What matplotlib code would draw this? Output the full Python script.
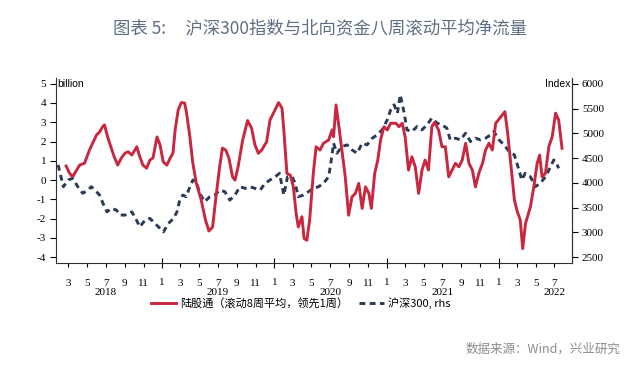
import matplotlib
matplotlib.use("Agg")
import matplotlib.pyplot as plt
import matplotlib.dates as mdates
import matplotlib.transforms as mtransforms
import numpy as np
import pandas as pd

plt.rcParams['font.family'] = ['Noto Sans CJK SC', 'DejaVu Sans']

# 陆股通（滚动8周平均，领先1周） - billion
flow_dates = ["2018-02-22","2018-03-05","2018-03-15","2018-04-07","2018-04-23","2018-05-09","2018-05-19",
    "2018-06-01","2018-06-11","2018-06-21","2018-06-27","2018-07-07","2018-07-19","2018-07-30","2018-08-09",
    "2018-08-21","2018-09-02","2018-09-12","2018-09-24","2018-10-04","2018-10-10","2018-10-20","2018-10-30",
    "2018-11-11","2018-11-22","2018-12-02","2018-12-15","2018-12-25","2019-01-04","2019-01-16","2019-01-27",
    "2019-02-05","2019-02-12","2019-02-22","2019-03-04","2019-03-15","2019-03-21","2019-04-01","2019-04-10",
    "2019-04-22","2019-05-08","2019-05-22","2019-06-02","2019-06-14","2019-06-25","2019-07-07","2019-07-16",
    "2019-07-27","2019-08-06","2019-08-18","2019-08-26","2019-09-05","2019-09-20","2019-10-06","2019-10-19",
    "2019-10-30","2019-11-10","2019-11-21","2019-12-07","2019-12-18","2019-12-29","2020-01-15","2020-01-26",
    "2020-02-01","2020-02-11","2020-02-22","2020-03-03","2020-03-12","2020-03-19","2020-03-31","2020-04-07",
    "2020-04-16","2020-04-25","2020-05-07","2020-05-16","2020-05-29","2020-06-09","2020-06-26","2020-07-07",
    "2020-07-12","2020-07-20","2020-07-28","2020-08-08","2020-08-19","2020-08-30","2020-09-10","2020-09-21",
    "2020-10-02","2020-10-13","2020-10-24","2020-11-04","2020-11-12","2020-11-23","2020-12-03","2020-12-12",
    "2020-12-23","2021-01-03","2021-01-14","2021-01-31","2021-02-10","2021-02-21","2021-03-02","2021-03-13",
    "2021-03-24","2021-04-04","2021-04-15","2021-04-26","2021-05-06","2021-05-17","2021-05-28","2021-06-06",
    "2021-06-19","2021-06-30","2021-07-11","2021-07-22","2021-08-02","2021-08-13","2021-08-24","2021-09-04",
    "2021-09-15","2021-09-26","2021-10-07","2021-10-17","2021-10-28","2021-11-09","2021-11-19","2021-11-30",
    "2021-12-11","2021-12-22","2022-01-08","2022-01-21","2022-01-30","2022-02-10","2022-02-21","2022-03-01",
    "2022-03-12","2022-03-20","2022-03-29","2022-04-09","2022-04-14","2022-04-25","2022-05-06","2022-05-14",
    "2022-05-22","2022-06-02","2022-06-13","2022-06-24","2022-07-05","2022-07-15","2022-07-26"]
flow_values = [0.73,0.36,0.17,0.78,0.88,1.56,1.90,
    2.34,2.50,2.77,2.86,2.25,1.66,1.15,0.78,
    1.15,1.40,1.47,1.30,1.56,1.73,1.21,0.78,
    0.62,1.04,1.15,2.24,1.82,0.95,0.78,1.15,
    1.40,2.60,3.64,4.02,4.00,3.50,2.25,0.95,
    -0.16,-1.04,-2.08,-2.64,-2.43,-0.87,0.69,1.66,
    1.56,1.15,0.17,0.00,0.69,2.08,3.09,2.69,
    1.82,1.39,1.56,1.99,3.12,3.47,4.02,3.73,
    2.60,0.35,0.26,-0.35,-1.72,-2.43,-1.90,-3.03,
    -3.12,-2.08,0.35,1.73,1.56,1.91,2.08,2.60,
    2.25,3.90,2.95,1.56,0.17,-1.82,-0.87,-0.69,
    -0.17,-1.47,-0.35,-0.69,-1.47,0.35,1.04,2.08,
    2.77,2.60,2.95,2.95,2.77,2.95,2.25,0.52,
    1.21,0.69,-0.69,0.52,1.04,0.52,2.77,3.00,
    2.60,1.73,1.73,0.17,0.52,0.87,0.69,1.04,
    1.91,0.87,0.52,-0.35,0.35,0.87,1.56,1.91,
    1.56,2.95,3.29,3.55,2.43,0.69,-1.04,-1.56,
    -2.08,-3.55,-2.25,-1.65,-1.39,-0.35,0.87,1.30,
    0.17,0.35,1.73,2.25,3.47,3.12,1.65]

# 沪深300, rhs
hs_dates = ["2018-01-27","2018-02-13","2018-03-01","2018-03-15","2018-04-01","2018-04-17","2018-05-04",
    "2018-05-15","2018-06-01","2018-06-11","2018-06-22","2018-07-05","2018-07-19","2018-08-05","2018-08-16",
    "2018-09-02","2018-09-24","2018-10-09","2018-10-20","2018-11-06","2018-11-22","2018-12-08","2018-12-25",
    "2019-01-05","2019-01-21","2019-02-07","2019-02-18","2019-02-27","2019-03-09","2019-03-20","2019-04-01",
    "2019-04-11","2019-04-22","2019-05-03","2019-05-19","2019-06-05","2019-06-21","2019-07-07","2019-07-24",
    "2019-08-09","2019-08-26","2019-09-11","2019-09-28","2019-10-14","2019-10-30","2019-11-16","2019-12-02",
    "2019-12-18","2020-01-04","2020-01-18","2020-02-01","2020-02-13","2020-02-28","2020-03-09","2020-03-19",
    "2020-04-05","2020-04-21","2020-05-07","2020-05-24","2020-06-09","2020-06-26","2020-07-03","2020-07-12",
    "2020-07-23","2020-08-08","2020-08-25","2020-09-10","2020-09-27","2020-10-13","2020-10-29","2020-11-15",
    "2020-12-01","2020-12-17","2021-01-03","2021-01-14","2021-01-25","2021-02-05","2021-02-14","2021-02-27",
    "2021-03-08","2021-03-24","2021-04-10","2021-04-26","2021-05-12","2021-05-28","2021-06-14","2021-06-30",
    "2021-07-16","2021-07-27","2021-08-13","2021-08-29","2021-09-15","2021-10-01","2021-10-17","2021-11-03",
    "2021-11-19","2021-12-05","2021-12-16","2022-01-02","2022-01-18","2022-02-04","2022-02-21","2022-03-06",
    "2022-03-17","2022-03-28","2022-04-14","2022-04-30","2022-05-16","2022-06-02","2022-06-16","2022-06-29",
    "2022-07-08","2022-07-15"]
hs_values = [4361,3922,4058,4092,3922,3789,3855,
    3922,3821,3754,3586,3416,3485,3451,3350,
    3350,3416,3249,3113,3249,3283,3182,3081,
    3012,3182,3283,3416,3653,3754,3720,3922,
    4058,4023,3789,3619,3720,3754,3855,3821,
    3653,3754,3922,3889,3922,3889,3855,3990,
    4058,4124,4193,3754,4124,4124,3990,3720,
    3754,3821,3889,3922,3990,4124,4395,4800,
    4598,4731,4766,4665,4598,4800,4766,4901,
    4968,5069,5272,5474,5575,5407,5777,5407,
    5069,5035,5136,5069,5170,5306,5205,5170,
    5104,4867,4901,4867,5002,4833,4901,4867,
    4901,4968,5035,4867,4766,4631,4563,4294,
    4058,4193,4124,3922,3990,4124,4294,4462,
    4395,4294]

left_ticks = [-4, -3, -2, -1, 0, 1, 2, 3, 4, 5]
right_ticks = [2500, 3000, 3500, 4000, 4500, 5000, 5500, 6000]
years = [2018, 2019, 2020, 2021, 2022]

red = '#c8283f'
navy = '#2a3a57'
serif = 'Liberation Serif'

fig = plt.figure(figsize=(6.4, 3.82), dpi=100)
ax = fig.add_axes([0.0875, 0.3115, 0.8065, 0.4845])
ax2 = ax.twinx()

fd = pd.to_datetime(flow_dates)
hd = pd.to_datetime(hs_dates)
l1, = ax.plot(fd, flow_values, color=red, lw=2.1, zorder=3)
l2, = ax2.plot(hd, hs_values, color=navy, lw=2.1, dashes=(2.0, 1.5))
ax.set_zorder(ax2.get_zorder() + 1)
ax.patch.set_visible(False)

ax.set_ylim(-4.3, 5.3)
ax2.set_ylim(2383.3, 6116.8)
ax.set_xlim(pd.Timestamp("2018-01-20"), pd.Timestamp("2022-08-28"))

ax.set_yticks(left_ticks)
ax.set_yticklabels([str(t) for t in left_ticks], fontfamily=serif, fontsize=8)
ax2.set_yticks(right_ticks)
ax2.set_yticklabels([str(t) for t in right_ticks], fontfamily=serif, fontsize=8)
ax.tick_params(axis='y', direction='out', length=4, width=0.8, pad=3)
ax2.tick_params(axis='y', direction='out', length=4, width=0.8, pad=3)

ax.xaxis.set_major_locator(mdates.MonthLocator(bymonth=[1]))
ax.xaxis.set_minor_locator(mdates.MonthLocator(bymonth=[3, 5, 7, 9, 11]))
ax.xaxis.set_major_formatter(mdates.DateFormatter('%-m'))
ax.xaxis.set_minor_formatter(mdates.DateFormatter('%-m'))
ax.tick_params(axis='x', which='major', direction='inout', length=7, width=0.8, pad=7,
               labelsize=8)
ax.tick_params(axis='x', which='minor', direction='out', length=3, width=0.8, pad=8.5,
               labelsize=8)
for lab in ax.get_xticklabels(which='both'):
    lab.set_fontfamily(serif)

for a in (ax, ax2):
    a.spines['top'].set_visible(False)
    for s in ('left', 'right', 'bottom'):
        a.spines[s].set_linewidth(0.8)
        a.spines[s].set_color('#333333')
ax2.spines['left'].set_visible(False)
ax2.spines['bottom'].set_visible(False)

trans = mtransforms.blended_transform_factory(ax.transData, ax.transAxes)
for y in years:
    ax.text(pd.Timestamp(f"{y}-07-01"), -0.16, str(y), transform=trans, ha='center',
            va='center', fontfamily=serif, fontsize=8)

ltrans = mtransforms.blended_transform_factory(ax.transAxes, ax.transData)
ax.text(0.003, 5.0, 'billion', transform=ltrans, ha='left', va='center',
        fontfamily='Liberation Sans', fontsize=7.5)
rtrans = mtransforms.blended_transform_factory(ax2.transAxes, ax2.transData)
ax2.text(0.997, 6000, 'Index', transform=rtrans, ha='right', va='center',
         fontfamily='Liberation Sans', fontsize=7.5)

fig.legend([l1, l2], ['陆股通（滚动8周平均，领先1周）', '沪深300, rhs'],
           loc='center', bbox_to_anchor=(0.47, 0.207), ncol=2, frameon=False,
           handlelength=2.2, columnspacing=1.0, handletextpad=0.4,
           prop={'family': ['Noto Sans CJK SC', 'DejaVu Sans'], 'size': 8})

fig.text(0.5, 0.925, '图表 5:     沪深300指数与北向资金八周滚动平均净流量', ha='center', va='center',
         fontsize=12.5, color='#5f6e84', fontweight='medium',
         family=['Noto Sans CJK SC', 'DejaVu Sans'])
fig.text(0.97, 0.085, '数据来源：Wind，兴业研究', ha='right', va='center', fontsize=9,
         color='#8c8c8c', family=['Noto Sans CJK SC', 'DejaVu Sans'])

fig.savefig('out.png', dpi=100)
